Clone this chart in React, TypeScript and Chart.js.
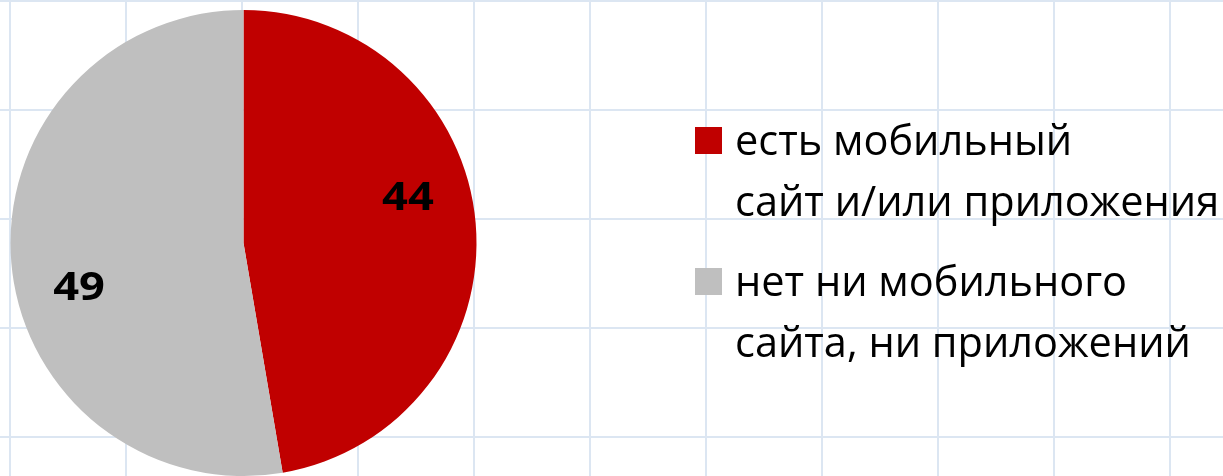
import React, { useEffect, useRef } from "react";
import { Chart, registerables } from "chart.js";

Chart.register(...registerables);

const categories: string[][] = [
  ["есть мобильный", "сайт и/или приложения"],
  ["нет ни мобильного", "сайта, ни приложений"],
];
const values: number[] = [44, 49];
const colors: string[] = ["#C00000", "#BFBFBF"];

const FONT = "'Open Sans', 'Noto Sans', sans-serif";

const sliceLabels = {
  id: "sliceLabels",
  afterDatasetsDraw(chart: any) {
    const ctx = chart.ctx;
    const meta = chart.getDatasetMeta(0);
    meta.data.forEach((arc: any, i: number) => {
      const p = arc.getProps(["x", "y", "startAngle", "endAngle", "outerRadius"], true);
      const mid = (p.startAngle + p.endAngle) / 2 - (10.5 * Math.PI) / 180;
      const r = p.outerRadius * 0.732;
      const cx = p.x + Math.cos(mid) * r;
      const cy = p.y + Math.sin(mid) * r + 1;
      ctx.save();
      ctx.translate(cx, cy);
      ctx.scale(1.16, 1);
      ctx.font = `bold 39px ${FONT}`;
      ctx.fillStyle = "#000000";
      ctx.textAlign = "center";
      ctx.textBaseline = "middle";
      ctx.fillText(String(chart.data.datasets[0].data[i]), 0, 0);
      ctx.restore();
    });
  },
};

const sideLegend = {
  id: "sideLegend",
  afterDraw(chart: any) {
    const ctx = chart.ctx;
    const labels = chart.data.labels as string[][];
    const bg = chart.data.datasets[0].backgroundColor as string[];
    const boxX = 695;
    const boxSize = 27;
    const textX = 735;
    const firstBaseline = 155;
    const lineHeight = 61;
    const itemGap = 141;
    ctx.save();
    ctx.font = `41.5px ${FONT}`;
    ctx.fillStyle = "#000000";
    ctx.textAlign = "left";
    ctx.textBaseline = "alphabetic";
    labels.forEach((lines, i) => {
      const base = firstBaseline + i * itemGap;
      ctx.fillStyle = bg[i];
      ctx.fillRect(boxX, base - 28, boxSize, boxSize);
      ctx.fillStyle = "#000000";
      lines.forEach((line, j) => {
        ctx.fillText(line, textX, base + j * lineHeight);
      });
    });
    ctx.restore();
  },
};

export default function App() {
  const ref = useRef<HTMLCanvasElement | null>(null);

  useEffect(() => {
    document.body.style.margin = "0";
    if (!ref.current) return;
    const chart = new Chart(ref.current, {
      type: "pie",
      data: {
        labels: categories,
        datasets: [
          {
            data: values,
            backgroundColor: colors,
            borderWidth: 0,
            hoverOffset: 0,
          },
        ],
      },
      options: {
        animation: false,
        responsive: false,
        maintainAspectRatio: false,
        layout: { padding: { left: 10, top: 10, right: 746, bottom: -1 } },
        plugins: {
          legend: { display: false },
          tooltip: { enabled: false },
        },
      },
      plugins: [sliceLabels, sideLegend],
    });
    return () => chart.destroy();
  }, []);

  return (
    <div
      style={{
        width: 1223,
        height: 476,
        position: "relative",
        backgroundColor: "#ffffff",
        backgroundImage:
          "linear-gradient(to right, #dce6f2 2px, transparent 2px), linear-gradient(to bottom, #dce6f2 2px, transparent 2px)",
        backgroundSize: "116px 109px",
        backgroundPosition: "9px 0px",
      }}
    >
      <canvas ref={ref} width={1223} height={476} style={{ display: "block" }} />
    </div>
  );
}
